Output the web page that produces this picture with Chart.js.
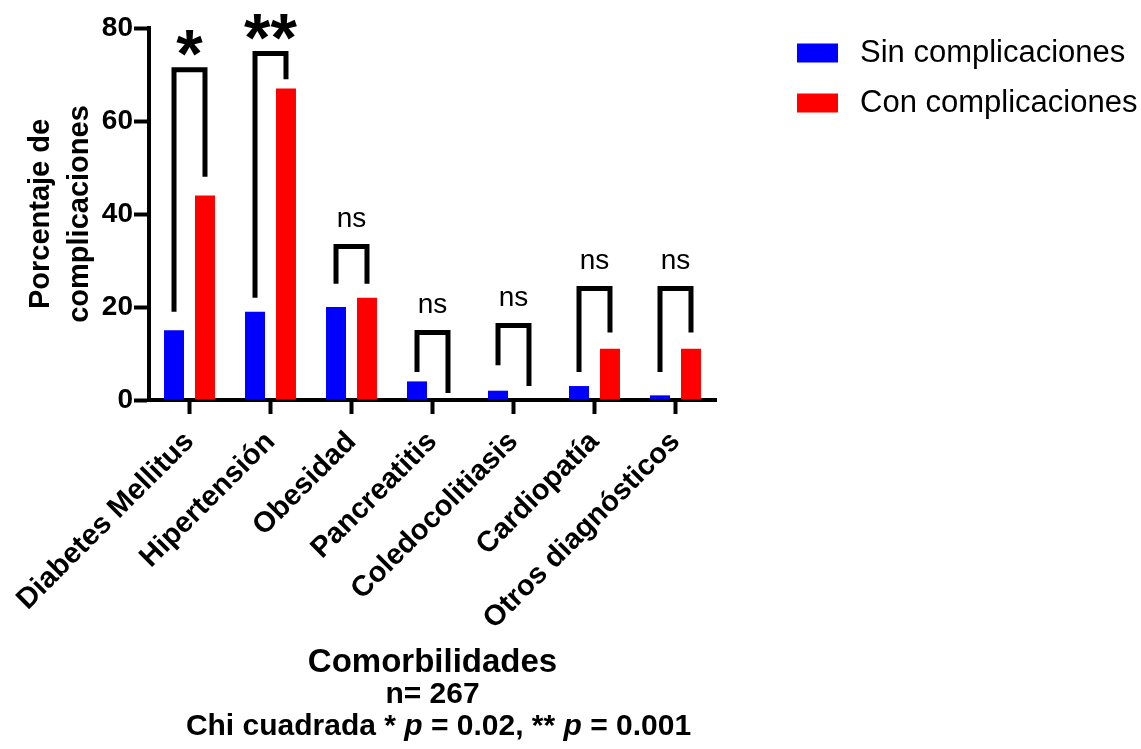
<!DOCTYPE html>
<html>
<head>
<meta charset="utf-8">
<script src="https://cdn.jsdelivr.net/npm/chart.js@4.4.0/dist/chart.umd.min.js"></script>
<style>
  html, body { margin: 0; padding: 0; background: #fff; }
</style>
</head>
<body>
<canvas id="myChart" width="1141" height="749"></canvas>
<script>
const categories = ['Diabetes Mellitus', 'Hipertensión', 'Obesidad', 'Pancreatitis', 'Coledocolitiasis', 'Cardiopatía', 'Otros diagnósticos'];
const sinComplicaciones = [15, 19, 20, 4, 2, 3, 1];
const conComplicaciones = [44, 67, 22, 0, 0, 11, 11];
const yTicks = [0, 20, 40, 60, 80];

// significance brackets (in % units)
const sigLabels = ['*', '**', 'ns', 'ns', 'ns', 'ns', 'ns'];
const bracketTop = [71, 74.5, 33, 14.5, 16, 24, 24];
const bracketLeftEnd = [19, 22, 25, 6, 7.5, 6, 6];
const bracketRightEnd = [48, 69, 25, 1.5, 3, 14.5, 14.5];

const fontFam = '"Liberation Sans", Arial, sans-serif';
Chart.defaults.font.family = fontFam;
Chart.defaults.color = '#000';

// brackets + stars / ns
const bracketPlugin = {
  id: 'brackets',
  afterDatasetsDraw(chart) {
    const ctx = chart.ctx;
    const y = chart.scales.y;
    const m0 = chart.getDatasetMeta(0).data;
    const m1 = chart.getDatasetMeta(1).data;
    ctx.save();
    ctx.strokeStyle = '#000';
    ctx.lineWidth = 5;
    ctx.lineJoin = 'miter';
    ctx.lineCap = 'butt';
    categories.forEach((c, i) => {
      const xl = m0[i].x;
      const xr = m1[i].x;
      const yt = y.getPixelForValue(bracketTop[i]);
      ctx.beginPath();
      ctx.moveTo(xl, y.getPixelForValue(bracketLeftEnd[i]));
      ctx.lineTo(xl, yt);
      ctx.lineTo(xr, yt);
      ctx.lineTo(xr, y.getPixelForValue(bracketRightEnd[i]));
      ctx.stroke();

      const lab = sigLabels[i];
      ctx.font = lab === 'ns' ? '28px ' + fontFam : 'bold 68px ' + fontFam;
      ctx.fillStyle = '#000';
      ctx.textAlign = 'center';
      ctx.textBaseline = 'alphabetic';
      const mt = ctx.measureText(lab);
      const cy = yt - 27;
      const by = cy + (mt.actualBoundingBoxAscent - mt.actualBoundingBoxDescent) / 2;
      ctx.fillText(lab, (xl + xr) / 2, by);
    });
    ctx.restore();
  }
};

// legend at the top right + the last two lines under the x title (italic p)
const extrasPlugin = {
  id: 'extras',
  afterDraw(chart) {
    const ctx = chart.ctx;
    ctx.save();
    ctx.textBaseline = 'middle';
    ctx.textAlign = 'left';
    ctx.font = '31px ' + fontFam;
    chart.data.datasets.forEach((ds, i) => {
      const cy = 53 + i * 50;
      ctx.fillStyle = ds.backgroundColor;
      ctx.fillRect(797, cy - 9.5, 41, 19);
      ctx.fillStyle = '#000';
      ctx.fillText(ds.label, 860, cy);
    });

    const a = chart.chartArea;
    const cx = (a.left + a.right) / 2;
    ctx.textAlign = 'center';
    ctx.font = 'bold 30px ' + fontFam;
    ctx.fillText('n= 267', cx, 695);

    ctx.textAlign = 'left';
    const parts = [
      ['Chi cuadrada * ', 'bold '],
      ['p', 'italic bold '],
      [' = 0.02, ** ', 'bold '],
      ['p', 'italic bold '],
      [' = 0.001', 'bold ']
    ];
    let total = 0;
    parts.forEach(p => { ctx.font = p[1] + '30px ' + fontFam; total += ctx.measureText(p[0]).width; });
    let x = cx + 6 - total / 2;
    parts.forEach(p => {
      ctx.font = p[1] + '30px ' + fontFam;
      ctx.fillText(p[0], x, 727);
      x += ctx.measureText(p[0]).width;
    });
    ctx.restore();
  }
};

const data = {
  labels: categories,
  datasets: [{
    label: 'Sin complicaciones',
    data: sinComplicaciones,
    backgroundColor: '#0000ff',
    categoryPercentage: 0.765,
    barPercentage: 0.645
  }, {
    label: 'Con complicaciones',
    data: conComplicaciones,
    backgroundColor: '#ff0000',
    categoryPercentage: 0.765,
    barPercentage: 0.645
  }]
};

const config = {
  type: 'bar',
  data: data,
  options: {
    responsive: false,
    devicePixelRatio: 1,
    animation: false,
    layout: { padding: { top: 28, right: 425, bottom: 0, left: 0 } },
    plugins: {
      legend: { display: false },
      tooltip: { enabled: false }
    },
    scales: {
      x: {
        afterFit: (s) => { s.height = 349; s.paddingLeft = 0; },
        grid: { display: true, drawOnChartArea: false, offset: false, drawTicks: true, tickLength: 14, tickWidth: 4, tickColor: '#000' },
        border: { display: true, width: 4, color: '#000' },
        ticks: {
          minRotation: 45, maxRotation: 45, padding: 11,
          color: '#000',
          font: { size: 29, weight: 'bold' }
        },
        title: {
          display: true,
          text: 'Comorbilidades',
          color: '#000',
          font: { size: 33, weight: 'bold', lineHeight: 32 / 33 },
          padding: { top: 0, bottom: 70 }
        }
      },
      y: {
        min: 0,
        max: 80,
        afterFit: (s) => { s.width = 149; },
        afterBuildTicks: (s) => { s.ticks = yTicks.map(v => ({ value: v })); },
        grid: { display: true, drawOnChartArea: false, drawTicks: true, tickLength: 15, tickWidth: 4, tickColor: '#000' },
        border: { display: true, width: 4, color: '#000' },
        ticks: {
          padding: 1,
          color: '#000',
          font: { size: 28, weight: 'bold' }
        },
        title: {
          display: true,
          text: ['Porcentaje de', 'complicaciones'],
          color: '#000',
          font: { size: 29, weight: 'bold', lineHeight: 1.34 },
          padding: { top: 22, bottom: 0 }
        }
      }
    }
  },
  plugins: [bracketPlugin, extrasPlugin]
};

window.addEventListener('DOMContentLoaded', () => {
  const myChart = new Chart(document.getElementById('myChart'), config);
});
</script>
</body>
</html>
